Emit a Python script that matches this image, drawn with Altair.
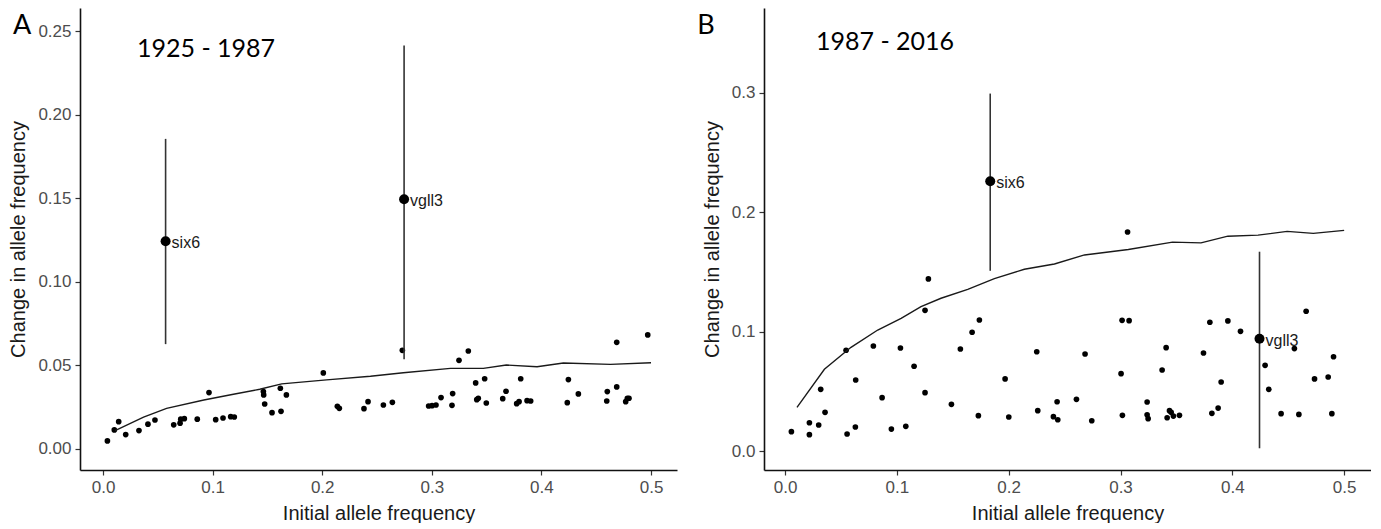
import altair as alt
import pandas as pd

# ---------------- Panel A: 1925 - 1987 ----------------
a_x = [0.004, 0.0103, 0.0143, 0.0207, 0.0328, 0.041, 0.0474, 0.0645, 0.0703, 0.0709,
       0.0742, 0.086, 0.0967, 0.1028, 0.1095, 0.1165, 0.1198, 0.1463, 0.1466, 0.1475,
       0.1542, 0.1618, 0.1624, 0.1673, 0.201, 0.2138, 0.2156, 0.2381, 0.2418, 0.2558,
       0.264, 0.2731, 0.2971, 0.3002, 0.3038, 0.3084, 0.319, 0.3184, 0.3248, 0.3333,
       0.34, 0.3482, 0.341, 0.3424, 0.3497, 0.3647, 0.3677, 0.3774, 0.3796, 0.3811,
       0.3869, 0.3902, 0.4236, 0.4246, 0.4337, 0.4596, 0.4601, 0.4687, 0.4687, 0.4769,
       0.4784, 0.4799, 0.497]
a_y = [0.0048, 0.0114, 0.0163, 0.0086, 0.011, 0.0148, 0.0173, 0.0144, 0.0154, 0.0178,
       0.0181, 0.0178, 0.0337, 0.0175, 0.0185, 0.0193, 0.0191, 0.0343, 0.0323, 0.0269,
       0.0217, 0.0363, 0.0225, 0.0323, 0.0455, 0.0255, 0.0243, 0.0241, 0.0283, 0.0263,
       0.0279, 0.059, 0.0257, 0.0259, 0.0263, 0.0307, 0.0331, 0.0261, 0.053, 0.0586,
       0.0395, 0.042, 0.0295, 0.0303, 0.0275, 0.0301, 0.0345, 0.0271, 0.0283, 0.042,
       0.0289, 0.0287, 0.0277, 0.0415, 0.0329, 0.0287, 0.0343, 0.0371, 0.0638, 0.0283,
       0.0303, 0.0303, 0.0682]
a_line_x = [0.011, 0.037, 0.058, 0.092, 0.119, 0.143, 0.163, 0.204, 0.244, 0.274,
            0.317, 0.347, 0.368, 0.396, 0.42, 0.463, 0.5]
a_line_y = [0.011, 0.019, 0.0243, 0.0293, 0.0327, 0.0357, 0.0389, 0.0413, 0.0435, 0.0456,
            0.0482, 0.0482, 0.0502, 0.0492, 0.0514, 0.0506, 0.0516]
a_genes = ["six6", "vgll3"]
a_gene_x = [0.0571, 0.2747]
a_gene_y = [0.1243, 0.1494]
a_gene_lo = [0.0627, 0.0536]
a_gene_hi = [0.1855, 0.2414]

# ---------------- Panel B: 1987 - 2016 ----------------
b_x = [0.0057, 0.0218, 0.0218, 0.0301, 0.0319, 0.0358, 0.0546, 0.0555, 0.0629, 0.0632,
       0.079, 0.0868, 0.0951, 0.1032, 0.108, 0.1154, 0.1252, 0.1252, 0.1282, 0.1488,
       0.1568, 0.1673, 0.1729, 0.1738, 0.1968, 0.2001, 0.2251, 0.226, 0.24, 0.2439,
       0.2433, 0.2606, 0.2683, 0.2743, 0.3005, 0.3014, 0.3077, 0.3017, 0.3238, 0.3238,
       0.3247, 0.3372, 0.3408, 0.3417, 0.3438, 0.3453, 0.3473, 0.3527, 0.3742, 0.3799,
       0.3817, 0.3873, 0.39, 0.396, 0.4073, 0.4293, 0.4326, 0.4436, 0.4555, 0.4595,
       0.466, 0.4735, 0.4857, 0.489, 0.4905, 0.3063]
b_y = [0.0162, 0.0237, 0.0137, 0.0218, 0.0517, 0.0324, 0.0844, 0.0143, 0.0201, 0.0595,
       0.088, 0.0447, 0.0184, 0.0863, 0.0207, 0.071, 0.1179, 0.0489, 0.1442, 0.0391,
       0.0855, 0.0995, 0.0296, 0.1098, 0.0604, 0.0285, 0.0832, 0.0338, 0.0288, 0.0262,
       0.0413, 0.0433, 0.0813, 0.0254, 0.0648, 0.1095, 0.1092, 0.0299, 0.0411, 0.0304,
       0.0271, 0.0679, 0.0866, 0.0279, 0.0338, 0.0324, 0.0293, 0.0299, 0.0821, 0.1079,
       0.0316, 0.036, 0.0578, 0.109, 0.1003, 0.0718, 0.0517, 0.0313, 0.0858, 0.0307,
       0.1171, 0.0604, 0.062, 0.0313, 0.079, 0.1835]
b_line_x = [0.0107, 0.0352, 0.059, 0.0829, 0.1038, 0.1216, 0.1395, 0.1634, 0.1872, 0.214,
            0.2409, 0.2678, 0.307, 0.3465, 0.372, 0.396, 0.423, 0.449, 0.4724, 0.5]
b_line_y = [0.0366, 0.0685, 0.0869, 0.1014, 0.1112, 0.121, 0.128, 0.1355, 0.1444, 0.1523,
            0.1567, 0.1643, 0.1688, 0.175, 0.1744, 0.18, 0.1809, 0.184, 0.1824, 0.1849]
b_genes = ["six6", "vgll3"]
b_gene_x = [0.1835, 0.4243]
b_gene_y = [0.2261, 0.0941]
b_gene_lo = [0.151, 0.0023]
b_gene_hi = [0.2995, 0.167]

x_ticks = [0.0, 0.1, 0.2, 0.3, 0.4, 0.5]
a_y_ticks = [0.0, 0.05, 0.10, 0.15, 0.20, 0.25]
b_y_ticks = [0.0, 0.1, 0.2, 0.3]

AX_FONT = "Liberation Sans"


def panel(px, py, lx, ly, genes, gx, gy, glo, ghi, period, period_pos, letter, letter_dx,
          xdom, ydom, yticks, yfmt, width, height):
    pts = pd.DataFrame({"x": px, "y": py})
    line = pd.DataFrame({"x": lx, "y": ly})
    g = pd.DataFrame({"gene": genes, "x": gx, "y": gy, "lo": glo, "hi": ghi})
    ann = pd.DataFrame({"label": [period], "x": [period_pos[0]], "y": [period_pos[1]]})

    xs = alt.Scale(domain=xdom, nice=False, zero=False)
    ys = alt.Scale(domain=ydom, nice=False, zero=False)
    xax = alt.Axis(values=x_ticks, format=".1f", title="Initial allele frequency")
    yax = alt.Axis(values=yticks, format=yfmt, title="Change in allele frequency")

    base_x = alt.X("x:Q", scale=xs, axis=xax)
    base_y = alt.Y("y:Q", scale=ys, axis=yax)

    p = alt.Chart(pts).mark_circle(size=32, color="black", opacity=1).encode(x=base_x, y=base_y)
    ln = alt.Chart(line).mark_line(color="#1a1a1a", strokeWidth=1.4).encode(x="x:Q", y="y:Q")
    bars = alt.Chart(g).mark_rule(color="#333333", strokeWidth=1.6).encode(
        x="x:Q", y="lo:Q", y2="hi:Q")
    big = alt.Chart(g).mark_circle(size=100, color="black", opacity=1).encode(x="x:Q", y="y:Q")
    lab = alt.Chart(g).mark_text(align="left", baseline="middle", dx=6, dy=2,
                                 fontSize=16, font=AX_FONT, color="#1a1a1a").encode(
        x="x:Q", y="y:Q", text="gene:N")
    per = alt.Chart(ann).mark_text(align="left", baseline="middle", fontSize=25,
                                   font="Lato", color="black").encode(
        x="x:Q", y="y:Q", text="label:N")
    title = alt.TitleParams(text=letter, anchor="start", frame="bounds", orient="top",
                            fontSize=27, font="Lato", fontWeight="normal", color="black",
                            offset=0, dx=letter_dx, dy=32)
    return alt.layer(p, ln, bars, big, lab, per).properties(
        width=width, height=height, title=title)


chart_a = panel(a_x, a_y, a_line_x, a_line_y, a_genes, a_gene_x, a_gene_y, a_gene_lo, a_gene_hi,
                "1925 - 1987", (0.031, 0.2395), "A", 4,
                [-0.021, 0.5237], [-0.0126, 0.2638], a_y_ticks, ".2f", 597, 462)
chart_b = panel(b_x, b_y, b_line_x, b_line_y, b_genes, b_gene_x, b_gene_y, b_gene_lo, b_gene_hi,
                "1987 - 2016", (0.0277, 0.343), "B", -5,
                [-0.0188, 0.524], [-0.0159, 0.3712], b_y_ticks, ".1f", 607, 462)

chart = alt.hconcat(chart_a, chart_b, spacing=20).properties(
    padding={"left": 0, "top": 0, "right": 0, "bottom": 0}
).configure_view(stroke=None).configure_axis(
    grid=False,
    domainColor="#111111", domainWidth=1.6,
    tickColor="#333333", tickWidth=1.2, tickSize=5,
    labelFont=AX_FONT, labelFontSize=17, labelColor="#4d4d4d", labelPadding=4,
    titleFont=AX_FONT, titleFontSize=20, titleFontWeight="normal", titleColor="#1a1a1a",
).configure_axisX(titlePadding=8).configure_axisY(titlePadding=9)

chart.save("out.html", embed_options={"renderer": "svg", "actions": False})
